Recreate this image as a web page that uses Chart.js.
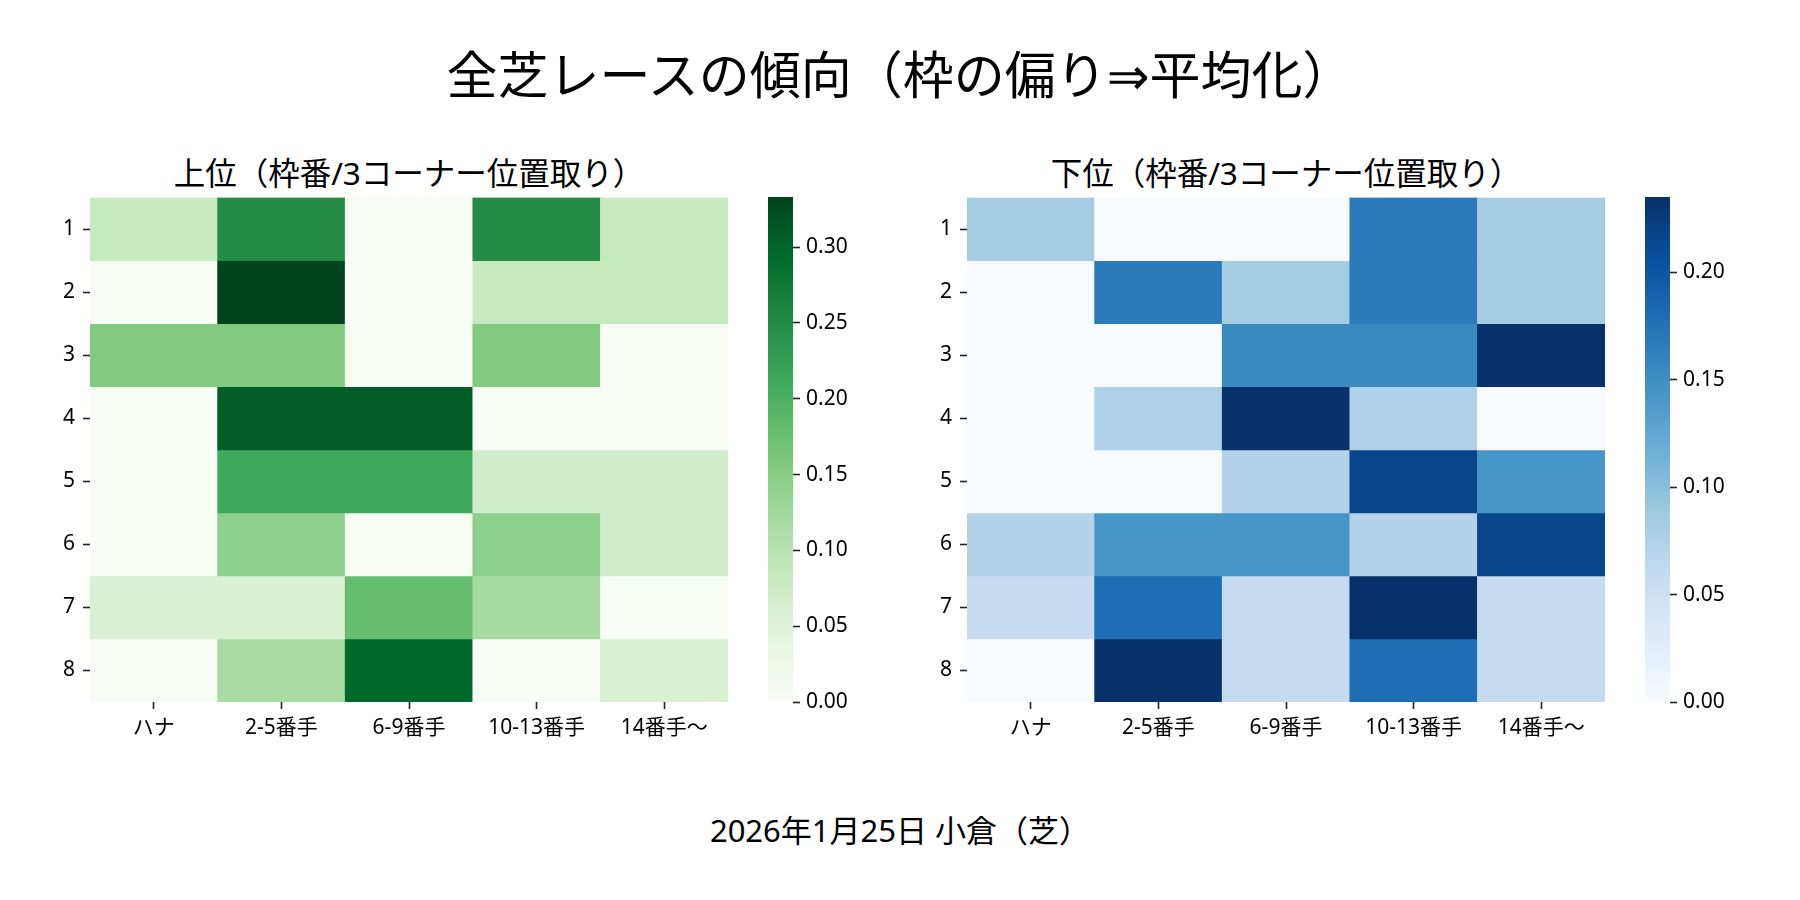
<!DOCTYPE html>
<html lang="ja">
<head>
<meta charset="utf-8">
<title>全芝レースの傾向</title>
<script src="https://cdn.jsdelivr.net/npm/chart.js@4.4.1/dist/chart.umd.min.js"></script>
<style>
  body { margin: 0; background: #fff; }
  #page { position: relative; width: 1800px; height: 900px; overflow: hidden; font-family: 'Noto Sans', 'DejaVu Sans', 'Noto Sans CJK JP', sans-serif; color: #000; }
  .txt { position: absolute; white-space: nowrap; text-align: center; transform: translateX(-50%); }
  canvas { position: absolute; }
</style>
</head>
<body>
<div id="page">
  <div class="txt" style="left:900px; top:45px; font-size:51px; line-height:58px;">全芝レースの傾向（枠の偏り⇒平均化）</div>
  <div class="txt" style="left:409px; top:154px; font-size:31.5px; line-height:38px;">上位（枠番/3コーナー位置取り）</div>
  <div class="txt" style="left:1286px; top:154px; font-size:31.5px; line-height:38px;">下位（枠番/3コーナー位置取り）</div>
  <div class="txt" style="left:900px; top:811px; font-size:31px; line-height:38px;">2026年1月25日 小倉（芝）</div>

  <canvas id="topMap" width="728" height="585" style="left:0px; top:177px;"></canvas>
  <canvas id="topBar" width="105" height="545" style="left:768px; top:177px;"></canvas>
  <canvas id="bottomMap" width="728" height="585" style="left:877px; top:177px;"></canvas>
  <canvas id="bottomBar" width="105" height="545" style="left:1645px; top:177px;"></canvas>
</div>
<script>
// columns = 3コーナー位置取り, rows = 枠番
const positions = ['ハナ', '2-5番手', '6-9番手', '10-13番手', '14番手〜'];
const frames = ['1', '2', '3', '4', '5', '6', '7', '8'];

// 上位 rates per frame (row) and position (column)
const topRates = [
  [0.083, 0.250, 0.000, 0.250, 0.083],
  [0.000, 0.333, 0.000, 0.083, 0.083],
  [0.154, 0.154, 0.000, 0.154, 0.000],
  [0.000, 0.308, 0.308, 0.000, 0.000],
  [0.000, 0.212, 0.212, 0.071, 0.071],
  [0.000, 0.143, 0.000, 0.143, 0.071],
  [0.058, 0.058, 0.176, 0.118, 0.000],
  [0.000, 0.117, 0.295, 0.000, 0.058]
];

// 下位 rates
const bottomRates = [
  [0.084, 0.000, 0.000, 0.167, 0.084],
  [0.000, 0.167, 0.084, 0.167, 0.084],
  [0.000, 0.000, 0.154, 0.154, 0.235],
  [0.000, 0.076, 0.235, 0.076, 0.000],
  [0.000, 0.000, 0.072, 0.215, 0.143],
  [0.072, 0.143, 0.143, 0.072, 0.215],
  [0.059, 0.179, 0.059, 0.235, 0.059],
  [0.000, 0.235, 0.059, 0.179, 0.059]
];

const topTicks = [0, 0.05, 0.10, 0.15, 0.20, 0.25, 0.30];
const bottomTicks = [0, 0.05, 0.10, 0.15, 0.20];

// matplotlib Greens / Blues anchor colours
const greens = ['#f7fcf5', '#e5f5e0', '#c7e9c0', '#a1d99b', '#74c476', '#41ab5d', '#238b45', '#006d2c', '#00441b'];
const blues = ['#f7fbff', '#deebf7', '#c6dbef', '#9ecae1', '#6baed6', '#4292c6', '#2171b5', '#08519c', '#08306b'];

function hexRgb(h) {
  return [parseInt(h.slice(1, 3), 16), parseInt(h.slice(3, 5), 16), parseInt(h.slice(5, 7), 16)];
}

function makeCmap(stops) {
  const rgb = stops.map(hexRgb);
  return function (t) {
    t = Math.max(0, Math.min(1, t));
    const p = t * (rgb.length - 1);
    const i = Math.min(Math.floor(p), rgb.length - 2);
    const f = p - i;
    const c = rgb[i].map((v, k) => Math.round(v + (rgb[i + 1][k] - v) * f));
    return 'rgb(' + c.join(',') + ')';
  };
}

Chart.defaults.font.family = "'Noto Sans', 'DejaVu Sans', 'Noto Sans CJK JP', sans-serif";
Chart.defaults.color = '#000';

const tickGrid = {
  drawOnChartArea: false,
  drawTicks: true,
  tickLength: 7,
  tickWidth: 1.6,
  tickColor: '#222'
};

function heatmap(id, rates, cmap) {
  const vmax = Math.max(...rates.flat());
  return new Chart(document.getElementById(id), {
    type: 'bar',
    data: {
      labels: positions,
      datasets: rates.map((row, i) => ({
        label: frames[i],
        data: row.map(() => 1),
        backgroundColor: row.map(v => cmap(v / vmax)),
        borderWidth: 0,
        barPercentage: 1,
        categoryPercentage: 1
      }))
    },
    options: {
      responsive: false,
      animation: false,
      layout: { padding: { top: 20, left: 0, right: 0, bottom: 0 } },
      plugins: { legend: { display: false }, tooltip: { enabled: false } },
      scales: {
        x: {
          stacked: true,
          grid: Object.assign({ offset: false }, tickGrid),
          border: { display: false },
          ticks: { font: { size: 21 }, padding: 6, maxRotation: 0, autoSkip: false },
          afterFit: s => { s.height = 60; }
        },
        y: {
          stacked: true,
          reverse: true,
          min: 0,
          max: frames.length,
          grid: tickGrid,
          border: { display: false },
          afterBuildTicks: s => { s.ticks = frames.map((f, i) => ({ value: i + 0.5 })); },
          ticks: { font: { size: 21 }, padding: 8, callback: (v, i) => frames[i] },
          afterFit: s => { s.width = 90; }
        }
      }
    }
  });
}

function colorbar(id, rates, ticks, cmap) {
  const vmax = Math.max(...rates.flat());
  return new Chart(document.getElementById(id), {
    type: 'bar',
    data: {
      labels: [''],
      datasets: [{
        data: [vmax],
        borderWidth: 0,
        barPercentage: 1,
        categoryPercentage: 1,
        backgroundColor: ctx => {
          const area = ctx.chart.chartArea;
          if (!area) return null;
          const g = ctx.chart.ctx.createLinearGradient(0, area.bottom, 0, area.top);
          for (let k = 0; k <= 32; k++) g.addColorStop(k / 32, cmap(k / 32));
          return g;
        }
      }]
    },
    options: {
      responsive: false,
      animation: false,
      layout: { padding: { top: 20, bottom: 20, left: 0, right: 0 } },
      plugins: { legend: { display: false }, tooltip: { enabled: false } },
      scales: {
        x: { display: false },
        y: {
          position: 'right',
          min: 0,
          max: vmax,
          grid: tickGrid,
          border: { display: false },
          afterBuildTicks: s => { s.ticks = ticks.map(v => ({ value: v })); },
          ticks: { font: { size: 21 }, padding: 6, callback: v => v.toFixed(2) },
          afterFit: s => { s.width = 80; }
        }
      }
    }
  });
}

const greenMap = makeCmap(greens);
const blueMap = makeCmap(blues);
heatmap('topMap', topRates, greenMap);
colorbar('topBar', topRates, topTicks, greenMap);
heatmap('bottomMap', bottomRates, blueMap);
colorbar('bottomBar', bottomRates, bottomTicks, blueMap);
</script>
</body>
</html>
